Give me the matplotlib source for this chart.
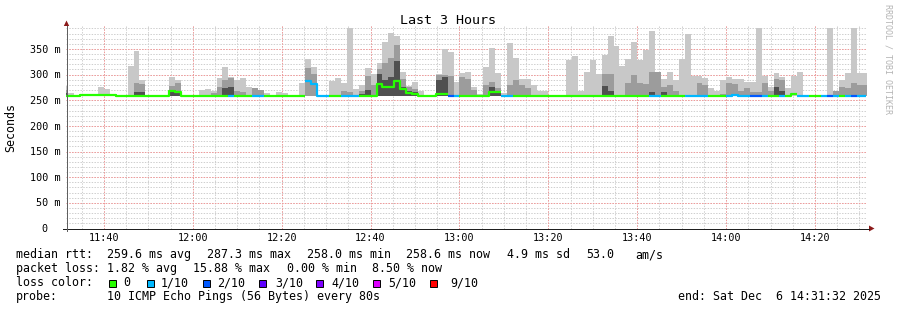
import numpy as np
import pandas as pd
import matplotlib
matplotlib.use("Agg")
import matplotlib.pyplot as plt
import matplotlib.dates as mdates
import matplotlib.transforms as mtransforms
from matplotlib.patches import Rectangle, Polygon
from matplotlib.lines import Line2D

# ---------------- data (RTT in milliseconds, 80 s bins) ----------------
first_bin = "2025-12-06 11:30:40"
view_start = "2025-12-06 11:31:32"
view_end = "2025-12-06 14:31:32"

rtt_median = [
    258, 258, 258, 260, 261, 261, 261, 261, 259.5, 258,
    258, 258, 258, 258, 258, 258, 258, 258, 268, 266,
    258, 258, 258, 258, 258, 258, 258, 258, 258, 258,
    258, 258, 258, 258, 258, 258, 258, 258, 258, 258,
    258, 287, 282, 258, 258, 258, 258, 258, 258, 258,
    258, 258, 258, 281, 275, 275, 287, 272, 264, 263,
    258, 258, 258, 262, 262, 258, 258, 258, 258, 258,
    258, 258, 266, 266, 258, 258, 258, 258, 258, 258,
    258, 258, 258, 258, 258, 258, 258, 258, 258, 258,
    258, 258, 258, 258, 258, 258, 258, 258, 258, 258,
    258, 258, 258, 258, 258, 258, 258, 258, 258, 258,
    258, 258, 258, 260, 258, 258, 258, 258, 258, 258,
    258, 258, 258, 262, 259, 258, 258, 258, 258, 258,
    258, 258, 258, 258, 258, 258,
]
loss_tenths = [
    0, 0, 0, 0, 0, 0, 0, 0, 0, 0,
    0, 0, 0, 0, 0, 0, 0, 0, 0, 0,
    0, 0, 0, 0, 0, 0, 0, 0, 1, 0,
    0, 0, 1, 1, 0, 0, 0, 0, 0, 0,
    0, 1, 1, 1, 1, 0, 0, 1, 1, 1,
    0, 0, 0, 0, 0, 0, 0, 0, 0, 0,
    0, 0, 0, 0, 0, 2, 1, 0, 0, 0,
    0, 0, 0, 0, 1, 1, 0, 0, 0, 0,
    0, 0, 0, 0, 0, 0, 0, 0, 0, 0,
    0, 0, 0, 0, 0, 0, 0, 0, 0, 1,
    1, 0, 0, 0, 0, 1, 1, 1, 1, 0,
    0, 0, 1, 1, 1, 1, 2, 2, 1, 0,
    0, 1, 0, 0, 1, 1, 0, 0, 1, 2,
    1, 0, 1, 2, 1, 1,
]
N = None
rtt_max = [
    277, 264, N, N, N, N, 275, 272, N, N,
    N, 317, 346, 290, N, N, N, N, 296, 290,
    N, N, N, 270, 272, 268, 293, 315, 295, 290,
    293, 276, 274, 270, 264, N, 266, 265, N, N,
    284, 330, 314, N, N, 287, 294, 283, 390, 272,
    280, 312, 302, 323, 364, 382, 376, 305, 278, 285,
    269, N, N, 302, 350, 344, 285, 303, 305, 276,
    263, 315, 352, 303, 265, 362, 332, 292, 292, 279,
    269, 269, N, N, N, 329, 337, 268, 305, 329,
    302, 339, 376, 356, 317, 331, 364, 329, 348, 385,
    305, 292, 305, 290, 331, 380, 297, 297, 293, 273,
    268, 290, 295, 292, 292, 286, 286, 390, 297, 276,
    304, 295, 273, 297, 305, N, N, N, N, 390,
    269, 290, 303, 390, 303, 303,
]
rtt_upper = [
    270, N, N, N, N, N, N, N, N, N,
    N, N, 283, 282, N, N, N, N, 278, 284,
    N, N, N, N, N, 265, 275, 290, 294, 268,
    266, N, 273, 270, N, N, N, N, N, N,
    N, 312, 302, N, N, N, N, 269, 266, N,
    268, 297, 279, 311, 323, 332, 358, 291, 276, 272,
    N, N, N, 299, 300, 297, N, 295, 292, 270,
    N, 279, 286, 273, N, 279, 289, 279, 273, N,
    N, N, N, N, N, N, N, N, N, N,
    N, 302, 302, N, N, 283, 299, 284, 281, 306,
    305, 276, 279, 269, N, N, N, 284, 279, N,
    N, 263, 283, 281, 269, 273, 266, 266, 284, 268,
    292, 289, N, N, N, N, N, N, N, N,
    269, 276, 273, 284, 279, 279,
]
rtt_core = [
    265, N, N, N, N, N, N, N, N, N,
    N, N, 267, 267, N, N, N, N, 270, 265,
    N, N, N, N, N, N, N, 274, 275, N,
    N, N, N, N, N, N, N, N, N, N,
    N, N, N, N, N, N, N, N, N, N,
    263, 270, N, 301, 290, 296, 326, 275, 269, 266,
    N, N, N, 290, 295, N, N, N, N, N,
    N, N, 276, 269, N, N, N, N, N, N,
    N, N, N, N, N, N, N, N, N, N,
    N, 278, 269, N, N, N, N, N, N, 266,
    N, 266, N, N, N, N, N, N, N, N,
    N, N, N, 263, N, N, N, N, N, N,
    276, 269, N, N, N, N, N, N, N, N,
    N, N, N, N, N, N,
]
rtt_lowest = 257.5

loss_levels = ["0", "1/10", "2/10", "3/10", "4/10", "5/10", "9/10"]
loss_values = [0, 1, 2, 3, 4, 5, 9]
loss_colors = ["#26ff00", "#00b8ff", "#0059ff", "#5e00ff", "#7e00ff", "#dd00ff", "#ff0000"]

y_ticks = [0, 50, 100, 150, 200, 250, 300, 350]
x_major = ["11:40", "12:00", "12:20", "12:40", "13:00", "13:20", "13:40", "14:00", "14:20"]

legend_rows = [
    [("median rtt:", 16), ("259.6 ms avg", 107.3), ("287.3 ms max", 207.3),
     ("258.0 ms min", 306.7), ("258.6 ms now", 406), ("4.9 ms sd", 506.7),
     ("53.0", 586), ("am/s", 635)],
    [("packet loss:", 16), ("1.82 % avg", 107.3), ("15.88 % max", 193.3),
     ("0.00 % min", 286.7), ("8.50 % now", 372.3)],
    [("loss color:", 16)],
    [("probe:", 16), ("10 ICMP Echo Pings (56 Bytes) every 80s", 107.3),
     ("end: Sat Dec  6 14:31:32 2025", 678.3)],
]
legend_baselines = [258, 272, 286, 300]
box_x = [109, 146.7, 202.7, 259.3, 316, 372.7, 430]
box_label_x = [123.3, 160.7, 217.3, 275, 331.7, 388.3, 450]

# ---------------- figure ----------------
W, H, DPI = 897, 310, 100
MONO = "DejaVu Sans Mono"
plt.rcParams["font.family"] = MONO

fig = plt.figure(figsize=(W / DPI, H / DPI), dpi=DPI, facecolor="white")

def fx(x):
    return x / W

def fy(y):
    return (H - y) / H

ax_left, ax_right = 66.3, 866.3
ax_bottom, ax_top = 228.5, 25.9
ax = fig.add_axes([fx(ax_left), fy(ax_bottom), (ax_right - ax_left) / W, (ax_bottom - ax_top) / H])
ax.set_facecolor("white")
for s in ax.spines.values():
    s.set_visible(False)
ax.set_xticks([])
ax.set_yticks([])

edges = pd.date_range(first_bin, periods=len(rtt_median) + 1, freq="80s")
xe = mdates.date2num(edges.to_pydatetime())
t0 = mdates.date2num(pd.Timestamp(view_start).to_pydatetime())
t1 = mdates.date2num(pd.Timestamp(view_end).to_pydatetime())
ax.set_xlim(t0, t1)
ax.set_ylim(0, 395)

def layer(vals):
    arr = np.array([rtt_lowest if v is None else v for v in vals], dtype=float)
    return np.append(arr, arr[-1])

for vals, col in [(rtt_max, "#c8c8c8"), (rtt_upper, "#9c9c9c"), (rtt_core, "#505050")]:
    ax.fill_between(xe, rtt_lowest, layer(vals), step="post", color=col, lw=0, zorder=3)

# grid (below the smoke)
minor_times = pd.date_range("2025-12-06 11:35", "2025-12-06 14:30", freq="5min")
major_times = pd.date_range("2025-12-06 11:40", "2025-12-06 14:20", freq="20min")
dots = (0, (1.4, 1.4))
for t in mdates.date2num(minor_times.to_pydatetime()):
    ax.axvline(t, color="#cfcfcf", lw=0.72, ls=dots, zorder=1)
for v in range(10, 395, 10):
    ax.axhline(v, color="#cfcfcf", lw=0.72, ls=dots, zorder=1)
for t in mdates.date2num(major_times.to_pydatetime()):
    ax.axvline(t, color="#f29a9a", lw=0.72, ls=dots, zorder=1.5)
for v in y_ticks[1:]:
    ax.axhline(v, color="#f29a9a", lw=0.72, ls=dots, zorder=1.5)

# median line coloured by loss
med = np.array(rtt_median, dtype=float)
loss = np.array(loss_tenths)
for lv, col in zip(loss_values, loss_colors):
    y = np.where(loss == lv, med, np.nan)
    if np.all(np.isnan(y)):
        continue
    ax.step(xe, np.append(y, y[-1]), where="post", color=col, lw=1.6, zorder=5,
            solid_capstyle="butt")

# axes lines and arrows
axis_col = "#202020"
arrow_col = "#8c1a1a"
fig.add_artist(Line2D([fx(63), fx(869)], [fy(228.5), fy(228.5)], color=axis_col, lw=0.72))
fig.add_artist(Line2D([fx(66.5), fx(66.5)], [fy(231), fy(25.5)], color="#606060", lw=0.72))
fig.add_artist(Polygon([(fx(66.5), fy(20.5)), (fx(63.8), fy(26)), (fx(69.2), fy(26))],
                       closed=True, transform=fig.transFigure, color=arrow_col, lw=0))
fig.add_artist(Polygon([(fx(874.5), fy(228.5)), (fx(869), fy(225.5)), (fx(869), fy(231.5))],
                       closed=True, transform=fig.transFigure, color=arrow_col, lw=0))

# tick labels
tick_fs = 7.3
xt = mtransforms.blended_transform_factory(ax.transData, fig.transFigure)
for lab, t in zip(x_major, mdates.date2num(major_times.to_pydatetime())):
    fig.text(t, fy(241), lab, transform=xt, ha="center", va="baseline", fontsize=tick_fs, color="#000000")
yt = mtransforms.blended_transform_factory(fig.transFigure, ax.transData) + \
    mtransforms.ScaledTranslation(0, -3.6 / DPI, fig.dpi_scale_trans)
for v in y_ticks:
    if v == 0:
        fig.text(fx(47), v, "0", transform=yt, ha="right", va="baseline", fontsize=tick_fs)
    else:
        fig.text(fx(60.5), v, f"{v} m", transform=yt, ha="right", va="baseline", fontsize=tick_fs)

# titles
fig.text(fx(447.5), fy(24), "Last 3 Hours", ha="center", va="baseline", fontsize=9.6)
fig.text(fx(11), fy(127), "Seconds", rotation=90, ha="center", va="center", fontsize=8.4)
fig.text(fx(887.5), fy(4), "RRDTOOL / TOBI OETIKER", rotation=270, ha="center", va="top",
         fontsize=6.0, color="#b4b4b4")

# legend
leg_fs = 8.4
for row, base in zip(legend_rows, legend_baselines):
    for s, x in row:
        fig.text(fx(x), fy(base), s, ha="left", va="baseline", fontsize=leg_fs)
for bx, lx, lab, col in zip(box_x, box_label_x, loss_levels, loss_colors):
    fig.add_artist(Rectangle((fx(bx), fy(286.5)), 7 / W, 7 / H, transform=fig.transFigure,
                             facecolor=col, edgecolor="black", lw=0.7))
    fig.text(fx(lx), fy(286), lab, ha="left", va="baseline", fontsize=leg_fs)

fig.savefig("out.png", dpi=DPI, facecolor="white")
